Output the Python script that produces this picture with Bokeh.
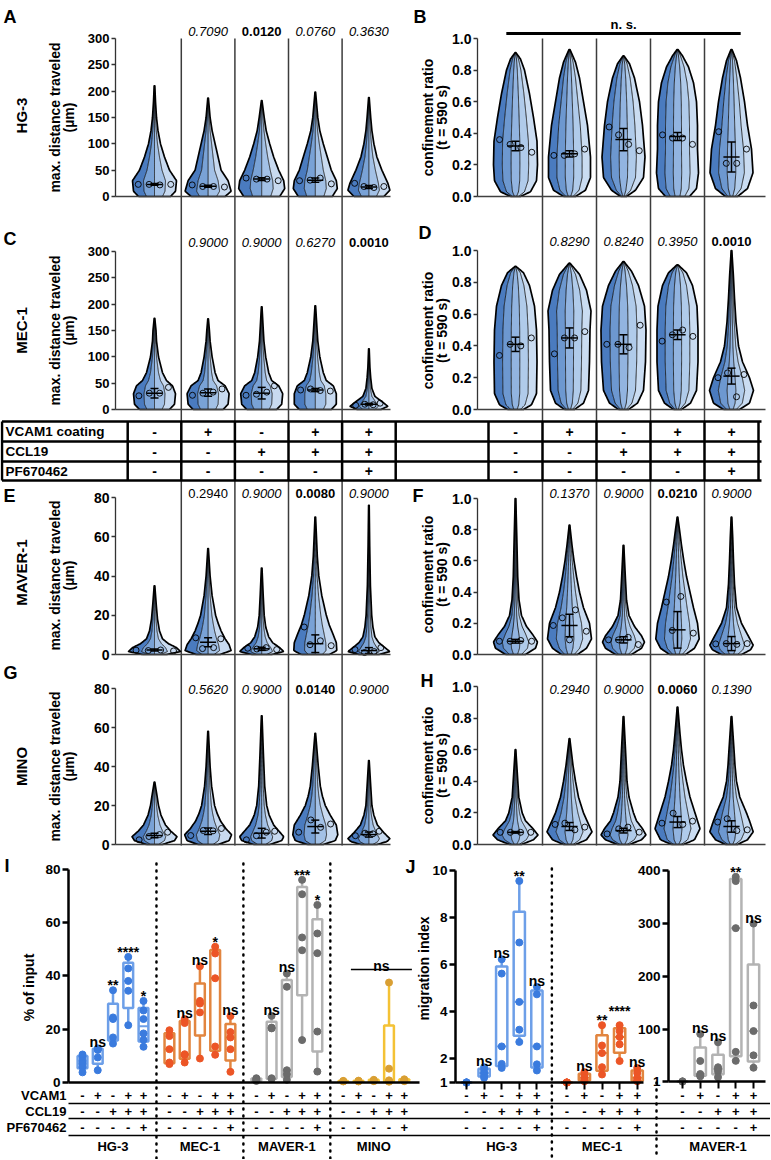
import numpy as np
from bokeh.plotting import figure
from bokeh.models import Range1d, LinearAxis, FixedTicker, NumeralTickFormatter, CustomJSTickFormatter
from bokeh.core.properties import value
from bokeh.embed import file_html
from bokeh.resources import INLINE

FONT = value("Liberation Sans")

# ---------------- data ----------------
ROW_LABELS = ["VCAM1 coating", "CCL19", "PF670462"]
VCAM1 = ["-", "+", "-", "+", "+"]
CCL19 = ["-", "-", "+", "+", "+"]
PF670462 = ["-", "-", "-", "-", "+"]

# violin profiles: value levels and relative widths
A_lv = [[0, 10, 30, 50, 75, 100, 125, 150, 180, 210],
        [0, 10, 30, 50, 75, 100, 125, 150, 187],
        [0, 15, 30, 50, 75, 100, 125, 150, 182],
        [0, 15, 30, 50, 75, 100, 125, 150, 198],
        [0, 12, 25, 50, 75, 100, 125, 150, 188]]
A_wd = [[16, 21, 22, 15, 10, 6, 3.5, 2, 1, 0.3],
        [17, 23, 20, 13, 10, 7, 4, 2, 0.3],
        [18, 23, 22, 17, 12, 8, 4.5, 2.5, 0.3],
        [17, 22, 21, 16, 12, 8, 4.5, 2.5, 0.3],
        [15, 21, 19, 13, 8, 5, 3, 1.8, 0.3]]
A_med = [[23, 23, 22, 23], [22, 19, 19, 18], [35, 33, 33, 30], [30, 31, 35, 24], [25, 19, 17, 19]]
A_mean = [23, 19.5, 33, 31, 18]
A_err = [1.5, 2, 2.5, 4, 3]
A_p = ["0.7090", "0.0120", "0.0760", "0.3630"]
A_ps = ["italic", "bold", "italic", "italic"]

B_lv = [[0, 0.03, 0.1, 0.2, 0.35, 0.5, 0.65, 0.8, 0.87, 0.91],
        [0, 0.04, 0.12, 0.25, 0.45, 0.6, 0.75, 0.85, 0.93],
        [0, 0.04, 0.12, 0.25, 0.45, 0.6, 0.75, 0.84, 0.89],
        [0, 0.05, 0.15, 0.3, 0.45, 0.6, 0.72, 0.82, 0.89, 0.93],
        [0, 0.05, 0.15, 0.3, 0.45, 0.6, 0.75, 0.86, 0.93]]
B_wd = [[5, 15, 21, 22, 21.5, 18, 14, 9, 5, 0.5],
        [6, 16, 21, 21, 18, 14, 10, 6, 0.5],
        [3, 12, 20, 21.5, 19, 16, 11, 6, 0.5],
        [12, 19, 21, 20, 20, 19, 16, 11, 5, 0.5],
        [6, 16, 21.5, 20, 16, 13, 9, 5, 0.5]]
B_med = [[0.36, 0.33, 0.31, 0.28], [0.26, 0.26, 0.27, 0.30], [0.44, 0.39, 0.33, 0.29],
         [0.39, 0.37, 0.37, 0.33], [0.41, 0.21, 0.21, 0.30]]
B_mean = [0.32, 0.27, 0.36, 0.38, 0.25]
B_err = [0.03, 0.02, 0.07, 0.025, 0.095]

C_lv = [[0, 10, 30, 45, 55, 70, 100, 130, 150, 173],
        [0, 10, 30, 45, 55, 70, 100, 130, 150, 172],
        [0, 10, 30, 45, 55, 70, 100, 130, 150, 195],
        [0, 10, 30, 45, 55, 70, 100, 130, 150, 197],
        [0, 6, 15, 25, 40, 60, 80, 115]]
C_wd = [[15, 20, 21, 18, 12, 8, 4, 2, 1.5, 0.3],
        [15, 20, 21, 17, 10, 7, 4, 2, 1.3, 0.3],
        [15, 20, 21, 17, 10, 7, 4, 2.2, 1.6, 0.3],
        [16, 21, 21, 18, 11, 8, 4.5, 2.5, 1.8, 0.3],
        [12, 19, 13, 6, 3, 1.8, 1, 0.3]]
C_med = [[26, 31, 31, 42], [27, 31, 33, 39], [27, 29, 33, 45], [37, 39, 36, 35], [8, 10, 9, 12]]
C_mean = [31, 32, 31, 37, 10]
C_err = [9, 7, 11, 3, 1.5]
C_p = ["0.9000", "0.9000", "0.6270", "0.0010"]
C_ps = ["italic", "italic", "italic", "bold"]

D_lv = [[0, 0.03, 0.1, 0.3, 0.5, 0.65, 0.78, 0.86, 0.9],
        [0, 0.04, 0.12, 0.3, 0.5, 0.62, 0.75, 0.85, 0.92],
        [0, 0.04, 0.12, 0.3, 0.5, 0.65, 0.78, 0.87, 0.93],
        [0, 0.04, 0.12, 0.3, 0.5, 0.65, 0.78, 0.86, 0.91],
        [0, 0.04, 0.12, 0.2, 0.3, 0.4, 0.55, 0.7, 0.85, 1.0]]
D_wd = [[8, 16, 21, 21.5, 21, 19, 14, 8, 0.5],
        [5, 14, 19, 20, 20.5, 21.5, 17, 10, 0.5],
        [5, 14, 20, 22, 22.5, 21, 15, 8, 0.5],
        [4, 13, 19, 20.5, 20.5, 19.5, 15, 9, 0.5],
        [8, 18, 22, 18, 11, 7, 4.5, 3, 1.8, 0.3]]
D_med = [[0.34, 0.41, 0.40, 0.45], [0.35, 0.45, 0.45, 0.49], [0.41, 0.41, 0.39, 0.53],
         [0.43, 0.47, 0.50, 0.46], [0.20, 0.23, 0.08, 0.22]]
D_mean = [0.41, 0.45, 0.41, 0.47, 0.21]
D_err = [0.045, 0.063, 0.06, 0.03, 0.05]
D_p = ["0.8290", "0.8240", "0.3950", "0.0010"]
D_ps = ["italic", "italic", "italic", "bold"]

E_lv = [[0, 1.5, 3.5, 5.5, 8, 12, 18, 25, 35],
        [0, 2, 5, 8, 12, 16, 20, 30, 40, 54],
        [0, 1.5, 3.5, 6, 9, 14, 20, 30, 44],
        [0, 2, 6, 10, 15, 20, 30, 40, 50, 70],
        [0, 1.5, 3.5, 6, 9, 14, 20, 35, 55, 76]]
E_wd = [[12, 26, 22, 14, 8, 5, 3, 1.8, 0.3],
        [12, 23, 21, 17, 13, 10, 7.5, 4, 2, 0.3],
        [10, 22, 18, 11, 7, 4, 2.5, 1.5, 0.3],
        [14, 21.5, 21, 18, 14, 11, 6.5, 3.5, 2, 0.3],
        [10, 21, 16, 10, 6, 4, 2.8, 1.5, 0.8, 0.3]]
E_med = [[2.2, 2.0, 2.3, 1.8], [8.5, 3.0, 3.5, 8.0], [3.2, 2.8, 3.5, 2.5], [14.0, 5.0, 7.0, 4.5], [2.5, 1.0, 1.5, 3.5]]
E_mean = [2.3, 6.2, 2.9, 5.5, 2.0]
E_err = [0.5, 2.3, 0.8, 4.5, 1.5]
E_p = ["0.2940", "0.9000", "0.0080", "0.9000"]
E_ps = ["normal", "italic", "bold", "italic"]

F_lv = [[0, 0.04, 0.08, 0.13, 0.18, 0.25, 0.35, 0.5, 0.75, 1.0],
        [0, 0.04, 0.1, 0.2, 0.3, 0.4, 0.5, 0.6, 0.7, 0.83],
        [0, 0.04, 0.08, 0.12, 0.18, 0.25, 0.35, 0.5, 0.7],
        [0, 0.04, 0.1, 0.2, 0.3, 0.4, 0.5, 0.6, 0.7, 0.8, 0.88],
        [0, 0.03, 0.06, 0.12, 0.2, 0.3, 0.45, 0.6, 0.75, 0.88]]
F_wd = [[10, 20, 22, 17, 11, 6, 3.5, 2.2, 1.3, 0.3],
        [8, 17, 22, 20, 14, 10, 7, 4.5, 2.5, 0.3],
        [8, 18, 21, 18, 11, 5.5, 3, 1.8, 0.3],
        [8, 17, 21.7, 20, 16, 12.5, 9, 6.3, 4, 2, 0.3],
        [10, 19, 21.7, 16.7, 10, 5, 3, 2, 1.2, 0.3]]
F_med = [[0.085, 0.085, 0.09, 0.085], [0.186, 0.235, 0.094, 0.286, 0.149], [0.094, 0.094, 0.11, 0.064],
         [0.336, 0.154, 0.372, 0.137], [0.068, 0.07, 0.065, 0.07]]
F_mean = [0.085, 0.186, 0.094, 0.158, 0.07]
F_err = [0.012, 0.072, 0.02, 0.117, 0.045]
F_p = ["0.1370", "0.9000", "0.0210", "0.9000"]
F_ps = ["italic", "italic", "bold", "italic"]

G_lv = [[0, 2, 4, 7, 10, 15, 20, 25, 32],
        [0, 2, 5, 8, 12, 16, 20, 30, 40, 58],
        [0, 2, 4, 7, 10, 15, 20, 30, 45, 66],
        [0, 2, 5, 10, 15, 20, 25, 30, 40, 57],
        [0, 1.5, 3, 6, 10, 15, 20, 30, 43]]
G_wd = [[8, 20, 22.5, 16, 11, 6.5, 4, 2.5, 0.3],
        [10, 21, 23.5, 18, 12.5, 9, 6.5, 3.5, 2, 0.3],
        [8, 20, 22, 17, 12, 7.5, 5, 3, 1.8, 0.3],
        [8, 20, 22.5, 21, 15, 10, 7, 5, 3, 0.3],
        [8, 18, 21, 15, 8.5, 5, 3, 1.8, 0.3]]
G_med = [[2.4, 4.1, 5.1, 6.3], [4.6, 7.2, 7.0, 8.2], [2.4, 4.5, 6.3, 6.8], [6.3, 12.6, 8.8, 10.5], [4.5, 5.8, 5.5, 6.8]]
G_mean = [4.6, 6.8, 5.8, 9.2, 5.1]
G_err = [1.2, 1.7, 2.5, 3.3, 1.3]
G_p = ["0.5620", "0.9000", "0.0140", "0.9000"]
G_ps = ["italic", "italic", "bold", "italic"]

H_lv = [[0, 0.03, 0.06, 0.1, 0.15, 0.2, 0.3, 0.45, 0.6],
        [0, 0.03, 0.08, 0.15, 0.2, 0.3, 0.4, 0.5, 0.67],
        [0, 0.03, 0.06, 0.1, 0.15, 0.2, 0.3, 0.4, 0.6, 0.81],
        [0, 0.03, 0.1, 0.2, 0.3, 0.4, 0.5, 0.6, 0.7, 0.87],
        [0, 0.03, 0.08, 0.15, 0.2, 0.3, 0.4, 0.5, 0.6, 0.81]]
H_wd = [[6, 18, 22.5, 17.5, 10, 6.7, 3.3, 1.8, 0.3],
        [6, 17, 22.5, 17.5, 14, 9, 6, 3.5, 0.3],
        [6, 18, 22.5, 19, 13, 10, 5.5, 3.5, 2, 0.3],
        [6, 17, 22.5, 17.5, 12.5, 9, 6, 4, 2.5, 0.3],
        [6, 16, 21.7, 18, 15, 8.3, 5, 3.5, 2.5, 0.3]]
H_med = [[0.077, 0.077, 0.077, 0.077], [0.127, 0.135, 0.093, 0.11], [0.067, 0.099, 0.11, 0.078],
         [0.135, 0.198, 0.127, 0.148], [0.142, 0.163, 0.088, 0.093]]
H_mean = [0.077, 0.114, 0.088, 0.142, 0.114]
H_err = [0.005, 0.025, 0.015, 0.035, 0.036]
H_p = ["0.2940", "0.9000", "0.0060", "0.1390"]
H_ps = ["italic", "italic", "bold", "italic"]

# Panel I: % of input (dots per condition)
I_groups = ["HG-3", "MEC-1", "MAVER-1", "MINO"]
I_HG3 = [[10.5, 9.8, 8.2, 7.0, 5.8, 3.8], [12.8, 12.2, 9.4, 4.6, 12.5], [34.6, 24.4, 23.8, 16.9, 14.6],
         [47.1, 42.8, 38.1, 34.4, 21.5], [30.6, 27.0, 23.8, 18.4, 16.0, 13.4]]
I_MEC1 = [[19.6, 17.4, 12.5, 7.5, 6.9], [23.8, 22.3, 10.6, 10.3, 7.5], [43.6, 30.6, 29.6, 26.3, 9.0],
          [50.9, 48.4, 39.1, 13.5, 10.4], [24.9, 18.9, 16.9, 12.5, 4.0]]
I_MAVER1 = [[1.6, 1.3, 0.9, 0.6], [25.0, 20.6, 20.3, 1.6, 1.3], [40.9, 35.9, 4.6, 3.1, 1.0],
            [76.0, 70.6, 54.4, 49.6, 15.9], [66.6, 55.9, 48.5, 19.1, 4.1]]
I_MINO = [[0.6, 0.5, 0.4], [0.7, 0.5, 0.4], [1.0, 0.7, 0.5], [37.5, 5.2, 0.8, 0.5, 0.3], [1.2, 0.8, 0.5]]
I_sig = [["", "ns", "**", "****", "*"], ["", "ns", "ns", "*", "ns"], ["", "ns", "ns", "***", "*"], ["", "", "", "", ""]]
I_lift = [[0, 0, 0, 0, 0], [0, 0, 0, 0, 0], [0, 0, 0, 0, 0], [0, 0, 0, 0, 0]]

# Panel J: migration index
J_groups = ["HG-3", "MEC-1", "MAVER-1"]
J_HG3 = [[1.0, 1.0, 1.0, 1.0, 1.0], [1.65, 1.51, 1.40, 1.30, 1.20], [6.23, 5.62, 2.53, 1.79, 1.62],
         [9.55, 6.94, 4.42, 3.24, 2.72], [5.06, 4.74, 2.53, 1.77, 1.51]]
J_MEC1 = [[1.0, 1.0, 1.0, 1.0, 1.0], [1.44, 1.30, 1.20, 1.11, 1.05], [3.43, 2.57, 2.25, 1.65, 1.34],
          [3.43, 3.18, 2.93, 2.62, 1.91], [1.62, 1.40, 1.20, 1.09, 1.05]]
J_MAVER1 = [[1.0, 1.0, 1.0], [90.9, 39.8, 15.1, 12.5, 10.7], [75.1, 27.9, 24.8, 20.0, 9.1],
            [388, 380, 291, 57, 40], [299.7, 144.7, 96.3, 50.4, 27.0]]
J_sig = [["", "ns", "ns", "**", "ns"], ["", "ns", "**", "****", "ns"], ["", "ns", "ns", "**", "ns"]]
J_lift = [[0, 0, 0, 0, 0], [0, 0, 0, 9, 0], [0, 0, 0, 0, 0]]

DOT_COLORS = {"HG-3": "#3a7bde", "MEC-1": "#ec5526", "MAVER-1": "#6b6b6b", "MINO": "#d99f33"}
BOX_COLORS = {"HG-3": "#6d9fe8", "MEC-1": "#e2853f", "MAVER-1": "#b3b3b3", "MINO": "#f4c235"}
VIOLIN4 = ["#4a7bbf", "#79a2d6", "#a3c1e6", "#c8daf0"]
VIOLIN5 = ["#4a7bbf", "#6d98d0", "#92b4e0", "#b0cbea", "#cadcf1"]

# ---------------- layout helpers ----------------
PW, PH = 770, 1159
X_LO, X_HI, Y_LO, Y_HI = 0, PW, PH, 0


def lin_range(v0, r0, v1, r1, lo, hi):
    b = (r1 - r0) / (v1 - v0)
    a = r0 - b * v0
    return Range1d(start=(lo - a) / b, end=(hi - a) / b)


p = figure(width=PW, height=PH, x_range=Range1d(X_LO, X_HI), y_range=Range1d(Y_LO, Y_HI),
           x_axis_type=None, y_axis_type=None, output_backend="svg", toolbar_location=None,
           min_border=0, min_border_left=0, min_border_right=0, min_border_top=0, min_border_bottom=0,
           outline_line_color=None, background_fill_color="white", border_fill_color="white")
p.grid.visible = False

SP_L, SP_R = 53.6, 54.0
GAP = 5.7
p.extra_x_ranges = {
    "L": lin_range(1, 154, 5, 154 + 4 * SP_L, X_LO, X_HI),
    "R": lin_range(1, 515, 5, 515 + 4 * SP_R, X_LO, X_HI),
    "Ix": lin_range(0, 82, 1, 97.25, X_LO, X_HI),
    "JLx": lin_range(0, 466, 1, 483.6, X_LO, X_HI),
    "JRx": lin_range(0, 682, 1, 699.75, X_LO, X_HI),
}
p.extra_y_ranges = {
    "A": lin_range(0, 196, 300, 38, Y_LO, Y_HI),
    "B": lin_range(0, 196, 1, 38, Y_LO, Y_HI),
    "C": lin_range(0, 409, 300, 251, Y_LO, Y_HI),
    "D": lin_range(0, 409, 1, 250, Y_LO, Y_HI),
    "E": lin_range(0, 654, 80, 497, Y_LO, Y_HI),
    "F": lin_range(0, 654, 1, 498, Y_LO, Y_HI),
    "G": lin_range(0, 844, 80, 688, Y_LO, Y_HI),
    "H": lin_range(0, 844, 1, 686, Y_LO, Y_HI),
    "Iy": lin_range(0, 1082, 80, 868.7, Y_LO, Y_HI),
    "JLy": lin_range(1, 1082, 8, 917, Y_LO, Y_HI),
    "JRy": lin_range(0, 1081.5, 400, 870, Y_LO, Y_HI),
}


def rn(xr=None, yr=None):
    kw = {}
    if xr:
        kw["x_range_name"] = xr
    if yr:
        kw["y_range_name"] = yr
    return kw


def text(xs, ys, ts, size, style="bold", align="center", baseline="middle", angle=0.0,
         xr=None, yr=None, color="black", y_offset=0):
    p.text(x=list(xs), y=list(ys), text=list(ts), text_font=FONT, text_font_size=size,
           text_font_style=style, text_align=align, text_baseline=baseline, angle=angle,
           text_color=color, y_offset=y_offset, **rn(xr, yr))


def yaxis(xr, yr, loc, bounds, ticks, size, fmt=None, width=1.3, color="#333333", tick_out=4):
    ax = LinearAxis(x_range_name=xr, y_range_name=yr, fixed_location=loc, bounds=bounds,
                    ticker=FixedTicker(ticks=ticks), axis_line_color=color, axis_line_width=width,
                    major_tick_line_color=color, major_tick_line_width=width, major_tick_out=tick_out,
                    major_tick_in=0, minor_tick_line_color=None, major_label_text_font="Liberation Sans",
                    major_label_text_font_style="bold", major_label_text_font_size=size,
                    major_label_standoff=2, major_label_text_color="black")
    if fmt:
        ax.formatter = NumeralTickFormatter(format=fmt)
    p.add_layout(ax, "left")


def violins(lv_list, wd_list, med_list, mean_list, err_list, xr, yr, spacing, nstrip, colors):
    for k in range(len(lv_list)):
        c = k + 1
        lv = np.array(lv_list[k], float)
        wd = np.array(wd_list[k], float) / spacing
        yy = np.linspace(lv[0], lv[-1], 160)
        hw = np.interp(yy, lv, wd)
        fr = np.linspace(0, 1, nstrip + 1)
        bnd = [c - hw + 2 * hw * f for f in fr]
        xs = [np.concatenate([bnd[s], bnd[s + 1][::-1]]).tolist() for s in range(nstrip)]
        ys = [np.concatenate([yy, yy[::-1]]).tolist() for _ in range(nstrip)]
        p.patches(xs, ys, fill_color=colors[:nstrip], line_color=None, **rn(xr, yr))
        p.multi_line([b.tolist() for b in bnd[1:-1]], [yy.tolist() for _ in bnd[1:-1]],
                     line_color="black", line_width=0.8, **rn(xr, yr))
        ox = np.concatenate([bnd[0], bnd[-1][::-1], bnd[0][:1]])
        oy = np.concatenate([yy, yy[::-1], yy[:1]])
        p.line(ox.tolist(), oy.tolist(), line_color="black", line_width=1.7, line_join="round", **rn(xr, yr))
        m = np.array(med_list[k], float)
        n = len(m)
        hwm = np.interp(m, lv, wd)
        fx = (np.arange(n) + 0.5) / n
        cx = c - hwm + 2 * hwm * fx
        p.scatter(cx.tolist(), m.tolist(), marker="circle", size=6, fill_alpha=0, line_color="black",
                  line_width=0.9, **rn(xr, yr))
        mu, e = mean_list[k], err_list[k]
        p.segment([c - 0.15, c, c - 0.075, c - 0.075], [mu, mu - e, mu + e, mu - e],
                  [c + 0.15, c, c + 0.075, c + 0.075], [mu, mu + e, mu + e, mu - e],
                  line_color="black", line_width=1.5, **rn(xr, yr))


def xaxis_line(xr, yr, x0, x1, y, width=1.5, color="#404040"):
    p.segment([x0], [y], [x1], [y], line_color=color, line_width=width, **rn(xr, yr))


# ---------------- violin panels ----------------
LOC_L = 1 + (115 - 154) / SP_L
LOC_R = 1 + (477 - 515) / SP_R
END_L = 1 + (390 - 154) / SP_L
END_R = 1 + (765 - 515) / SP_R
cats = [1, 2, 3, 4, 5]

# separators
for y0, y1 in [(38, 421), (479, 845)]:
    p.segment([1.5, 2.5, 3.5, 4.5], [y0] * 4, [1.5, 2.5, 3.5, 4.5], [y1] * 4, line_color="#3c3c3c",
              line_width=1.5, **rn("L", None))
    p.segment([1.5, 2.5, 3.5, 4.5], [y0] * 4, [1.5, 2.5, 3.5, 4.5], [y1] * 4, line_color="#3c3c3c",
              line_width=1.5, **rn("R", None))

panels_left = [("A", A_lv, A_wd, A_med, A_mean, A_err, 300, [0, 50, 100, 150, 200, 250, 300], "13px"),
               ("C", C_lv, C_wd, C_med, C_mean, C_err, 300, [0, 50, 100, 150, 200, 250, 300], "13px"),
               ("E", E_lv, E_wd, E_med, E_mean, E_err, 80, [0, 20, 40, 60, 80], "14px"),
               ("G", G_lv, G_wd, G_med, G_mean, G_err, 80, [0, 20, 40, 60, 80], "14px")]
for name, lv, wd, med, mu, er, top, ticks, fs in panels_left:
    violins(lv, wd, med, mu, er, "L", name, SP_L, 4, VIOLIN4)
    yaxis("L", name, LOC_L, (0, top), ticks, fs)
    xaxis_line("L", name, LOC_L, END_L, 0)

panels_right = [("B", B_lv, B_wd, B_med, B_mean, B_err, 5),
                ("D", D_lv, D_wd, D_med, D_mean, D_err, 5),
                ("F", F_lv, F_wd, F_med, F_mean, F_err, 5),
                ("H", H_lv, H_wd, H_med, H_mean, H_err, 5)]
for name, lv, wd, med, mu, er, ns in panels_right:
    violins(lv, wd, med, mu, er, "R", name, SP_R, ns, VIOLIN5)
    yaxis("R", name, LOC_R, (0, 1), [0, 0.2, 0.4, 0.6, 0.8, 1.0], "14px", fmt="0.0")
    xaxis_line("R", name, LOC_R, END_R, 0)

# p-values
for (pv, ps, xr, yref) in [(A_p, A_ps, "L", 31), (C_p, C_ps, "L", 242), (D_p, D_ps, "R", 241),
                          (E_p, E_ps, "L", 493), (F_p, F_ps, "R", 493), (G_p, G_ps, "L", 689),
                          (H_p, H_ps, "R", 689)]:
    for i, (t, s) in enumerate(zip(pv, ps)):
        text([cats[i + 1]], [yref], [t], "13px", style=s, xr=xr)

# n. s. bar for B
p.segment([0.83], [33], [5.17], [33], line_color="black", line_width=3, **rn("R", None))
text([3], [24], ["n. s."], "13px", xr="R")

# panel letters
for lt, x, y in [("A", 3, 16), ("B", 413, 16), ("C", 3, 238), ("D", 418, 232), ("E", 3, 495),
                 ("F", 412, 495), ("G", 3, 672), ("H", 420, 680), ("I", 4, 865), ("J", 405, 866)]:
    text([x], [y], [lt], "18px", align="left", baseline="alphabetic")

# y titles
for lbl, cy in [("HG-3", 115), ("MEC-1", 330), ("MAVER-1", 572), ("MINO", 766)]:
    text([21], [cy], [lbl], "15px", angle=np.pi / 2)
for cy in [117, 330, 575, 766]:
    text([54], [cy], ["max. distance traveled"], "14px", angle=np.pi / 2)
    text([68], [cy], ["(µm)"], "14px", angle=np.pi / 2)
for cy in [117, 330, 574, 765]:
    text([427], [cy], ["confinement ratio"], "14px", angle=np.pi / 2)
    text([441], [cy], ["(t = 590 s)"], "14px", angle=np.pi / 2)

# condition table between C/D and E/F
T_Y = [421, 441, 461, 480]
for y in T_Y:
    p.segment([1.5], [y], [761], [y], line_color="black", line_width=2.5)
p.segment([1.5], [T_Y[0]], [1.5], [T_Y[-1]], line_color="black", line_width=2.5)
bx = [0.5, 1.5, 2.5, 3.5, 4.5, 5.5]
p.segment(bx, [T_Y[0]] * 6, bx, [T_Y[-1]] * 6, line_color="black", line_width=2.5, **rn("L", None))
p.segment(bx, [T_Y[0]] * 6, bx, [T_Y[-1]] * 6, line_color="black", line_width=2.5, **rn("R", None))
for r, (lbl, signs) in enumerate(zip(ROW_LABELS, [VCAM1, CCL19, PF670462])):
    yc = (T_Y[r] + T_Y[r + 1]) / 2
    text([5], [yc], [lbl], "13.5px", align="left")
    text(cats, [yc] * 5, signs, "14px", xr="L")
    text(cats, [yc] * 5, signs, "14px", xr="R")


# ---------------- box panels ----------------
def boxes(groups, names, xr, yr, sigs, lifts):
    for g, (data, nm) in enumerate(zip(groups, names)):
        dc, bc = DOT_COLORS[nm], BOX_COLORS[nm]
        for i, d in enumerate(data):
            x = g * GAP + i
            q1, med, q3 = np.percentile(d, [25, 50, 75], method="weibull")
            lo, hi = min(d), max(d)
            p.segment([x, x], [lo, q3], [x, x], [q1, hi], line_color=bc, line_width=2.5, **rn(xr, yr))
            p.quad(left=[x - 0.32], right=[x + 0.32], bottom=[q1], top=[q3], fill_color="white",
                   line_color=bc, line_width=2.5, **rn(xr, yr))
            p.segment([x - 0.32], [med], [x + 0.32], [med], line_color=bc, line_width=2, **rn(xr, yr))
            p.scatter([x] * len(d), d, marker="circle", size=7, fill_color=dc, line_color=dc, **rn(xr, yr))
            s = sigs[g][i]
            if s:
                off = (-6 if s == "ns" else -5) - lifts[g][i]
                text([x], [hi], [s], "14px", baseline="alphabetic", xr=xr, yr=yr, y_offset=off)


ROW_Y = [1095, 1110.5, 1126.5]
GROUP_Y = 1146


def table_rows(xr, groups_n):
    for r, signs in enumerate([VCAM1, CCL19, PF670462]):
        for g in range(groups_n):
            xs = [g * GAP + i for i in range(5)]
            text(xs, [ROW_Y[r]] * 5, signs, "13px", xr=xr)


# I
boxes([I_HG3, I_MEC1, I_MAVER1, I_MINO], I_groups, "Ix", "Iy", I_sig, I_lift)
yaxis("Ix", "Iy", (68 - 82) / 15.25, (0, 80), [0, 20, 40, 60, 80], "13.5px", width=2.5, color="black", tick_out=6)
xaxis_line("Ix", "Iy", (68 - 82) / 15.25, 3 * GAP + 5.0, 0, width=2.5, color="black")
p.segment([3 * GAP + 0.5], [42.4], [3 * GAP + 4.5], [42.4], line_color="black", line_width=1.5, **rn("Ix", "Iy"))
text([3 * GAP + 2.5], [42.4], ["ns"], "14px", baseline="alphabetic", xr="Ix", yr="Iy", y_offset=-3)
sep_I = [g * GAP + 4.85 for g in range(3)]
p.segment(sep_I, [863] * 3, sep_I, [1159] * 3, line_color="black", line_width=2.5, line_dash="1 6",
          line_cap="round", **rn("Ix", None))
table_rows("Ix", 4)
for g, nm in enumerate(I_groups):
    text([g * GAP + 2], [GROUP_Y], [nm], "13px", xr="Ix")
for lbl, yc in zip(["VCAM1", "CCL19", "PF670462"], ROW_Y):
    text([66], [yc], [lbl], "13px", align="right")
for y in [1103, 1118, 1135]:
    p.segment([68], [y], [770], [y], line_color="black", line_width=1.5)
text([28], [987], ["% of input"], "14px", angle=np.pi / 2)

# J
boxes([J_HG3, J_MEC1], J_groups[:2], "JLx", "JLy", J_sig[:2], J_lift[:2])
boxes([J_MAVER1], J_groups[2:], "JRx", "JRy", J_sig[2:], J_lift[2:])
yaxis("JLx", "JLy", (455 - 466) / 17.6, (1, 10), [1, 2, 4, 6, 8, 10], "13.5px", width=2.5, color="black", tick_out=6)
yaxis("JRx", "JRy", (668 - 682) / 17.75, (1, 400), [1, 100, 200, 300, 400], "13.5px", width=2.5, color="black",
      tick_out=6)
for xr, yr, loc, end, ypos, nG in [("JLx", "JLy", (455 - 466) / 17.6, (643 - 466) / 17.6, 1, 2),
                                   ("JRx", "JRy", (668 - 682) / 17.75, (765 - 682) / 17.75, 1, 1)]:
    ticks = [g * GAP + i for g in range(nG) for i in range(5)]
    ax = LinearAxis(x_range_name=xr, y_range_name=yr, fixed_location=ypos, bounds=(loc, end),
                    ticker=FixedTicker(ticks=ticks), axis_line_color="black", axis_line_width=2.5,
                    major_tick_line_color="black", major_tick_line_width=2, major_tick_out=7, major_tick_in=0,
                    minor_tick_line_color=None, formatter=CustomJSTickFormatter(code="return ''"))
    p.add_layout(ax, "below")
p.segment([4.85], [868], [4.85], [1159], line_color="black", line_width=2.5, line_dash="1 6",
          line_cap="round", **rn("JLx", None))
p.segment([(656 - 682) / 17.75], [1082], [(656 - 682) / 17.75], [1159], line_color="black", line_width=2.5,
          line_dash="1 6", line_cap="round", **rn("JRx", None))
table_rows("JLx", 2)
table_rows("JRx", 1)
text([2, GAP + 2], [GROUP_Y, GROUP_Y], J_groups[:2], "13px", xr="JLx")
text([2], [GROUP_Y], J_groups[2:], "13px", xr="JRx")
text([423], [968], ["migration index"], "14px", angle=np.pi / 2)

open("out.html", "w").write(file_html(p, INLINE))
